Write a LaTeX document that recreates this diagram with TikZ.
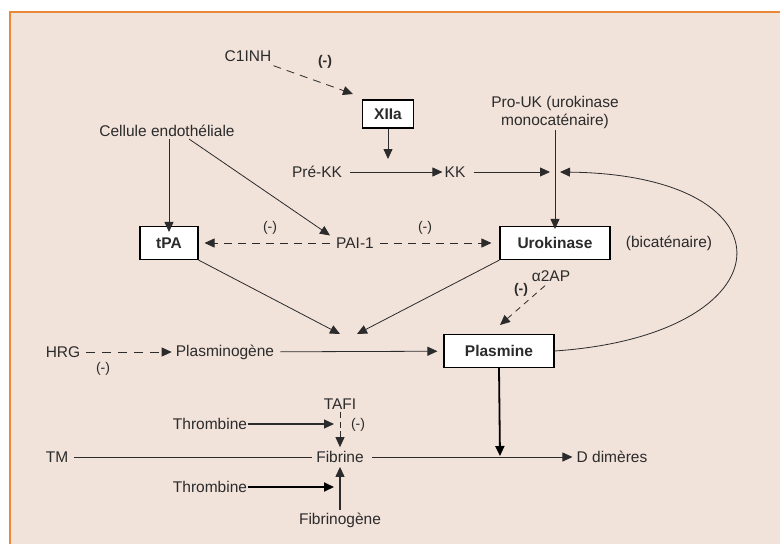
\documentclass[tikz,border=0pt]{standalone}
\usepackage{fontspec}
\setmainfont{Liberation Sans}
\usetikzlibrary{arrows.meta}
\definecolor{panel}{HTML}{F1E2DA}
\definecolor{frame}{HTML}{E8893A}
\definecolor{ink}{HTML}{2B2B2B}
\begin{document}
\begin{tikzpicture}[x=1pt,y=-1pt,
  font=\fontsize{15.5}{18}\selectfont,
  tip/.style={-{Triangle[length=10pt,width=9pt]}},
  txt/.style={text=ink, inner sep=2pt},
  tight/.style={text=ink, inner sep=0.5pt},
  box/.style={draw=black, line width=1.1pt, fill=white, text=ink, font=\fontsize{15.5}{18}\selectfont\bfseries, inner sep=0pt},
  arr/.style={draw=ink, line width=0.8pt, tip},
  thickarr/.style={draw=black, line width=1.8pt, tip},
  plain/.style={draw=ink, line width=0.8pt},
  dasharr/.style={draw=ink, line width=0.8pt, dash pattern=on 8pt off 6pt, tip},
  minus/.style={text=ink, inner sep=1pt, font=\fontsize{14}{16}\selectfont}
]
% panel
\useasboundingbox (0,0) rectangle (780,544);
\fill[white] (0,0) rectangle (780,544);
\fill[panel] (10,12) rectangle (780,544);
\draw[frame, line width=2pt] (10,544) -- (10,12) -- (780,12);

% upper part: contact activation
\node[txt] (c1inh) at (248,56) {C1INH};
\node[minus, font=\fontsize{14}{16}\selectfont\bfseries] (m0) at (325,62) {(-)};
\node[box, minimum width=51pt, minimum height=28pt] (xiia) at (388,114) {XIIa};
\coordinate (c1tip) at (353,94);
\draw[dasharr] ([yshift=-2pt]c1inh.south east) -- (c1tip);

\node[txt, align=center] (prouk) at (555,112) {Pro-UK (urokinase\\monocaténaire)};
\node[txt] (cell) at (167,131) {Cellule endothéliale};

\node[txt] (prekk) at (317,172) {Pré-KK};
\node[txt] (kk) at (455,172) {KK};
\coordinate (j) at (555,172);
\coordinate (jl) at (550,172);
\coordinate (jr) at (560,172);
\coordinate (xtip) at (388,159);
\draw[arr] (xiia.south) -- (xtip);
\draw[arr, shorten <=6pt] (prekk) -- (kk);
\draw[arr, shorten <=6pt] (kk) -- (jl);

% activators row
\node[box, minimum width=58pt, minimum height=33pt] (tpa) at (169,243) {tPA};
\node[box, minimum width=110pt, minimum height=33pt] (uro) at (555,243) {Urokinase};
\node[txt] (pai) at (355,243) {PAI-1};
\node[txt] (bica) at (669,243) {(bicaténaire)};
\node[minus] (m1) at (270,228) {(-)};
\node[minus] (m2) at (425,228) {(-)};

\draw[arr] (prouk.south) -- ([yshift=-3pt]uro.north);
\draw[arr] (cell.south -| tpa) -- ([yshift=-6pt]tpa.north);
\draw[arr] ([xshift=22pt]cell.south) -- ([xshift=-4pt]pai.north west);
\draw[dasharr, shorten <=4pt, shorten >=6pt] (pai) -- (tpa);
\draw[dasharr, shorten <=4pt, shorten >=8pt] (pai) -- (uro);

% plasmin formation
\node[txt] (a2ap) at (551,276) {α2AP};
\node[minus, font=\fontsize{14}{16}\selectfont\bfseries] (m3) at (521,290) {(-)};
\node[txt] (hrg) at (63,352) {HRG};
\node[minus] (m4) at (103,369) {(-)};
\node[txt] (plg) at (225,352) {Plasminogène};
\node[box, minimum width=110pt, minimum height=33pt] (pla) at (499,351) {Plasmine};

\coordinate (cv1) at (340,334);
\coordinate (cv2) at (357,334);
\coordinate (a2tip) at (500,325);
\draw[arr] (tpa.south east) -- (cv1);
\draw[arr] (uro.south west) -- (cv2);
\draw[dasharr, dash pattern=on 6pt off 5pt] ([xshift=-6pt,yshift=-2pt]a2ap.south) -- (a2tip);
\draw[dasharr, dash pattern=on 9pt off 7pt, shorten <=4pt, shorten >=2pt] (hrg) -- (plg);
\draw[arr, shorten <=4pt, shorten >=6pt] (plg) -- (pla);

% plasmin feedback onto pro-urokinase
\draw[plain, tip] (pla.east) .. controls (790,335) and (800,175) .. (jr);
\draw[plain] (j |- prouk.south) -- (j);

% fibrin part
\node[txt] (tafi) at (340,404) {TAFI};
\node[minus] (m5) at (358,425) {(-)};
\node[tight] (thr1) at (210,424) {Thrombine};
\node[tight] (thr2) at (210,487) {Thrombine};
\node[txt] (tm) at (57,457) {TM};
\node[txt, inner sep=4pt] (fib) at (340,457) {Fibrine};
\node[txt] (dd) at (612,457) {D dimères};
\node[txt] (fbg) at (340,520) {Fibrinogène};

\coordinate (tafimid) at (340,431);
\coordinate (t1tip) at (334,424);
\coordinate (t2tip) at (334,487);
\coordinate (ptip) at (500,456);
\draw[plain, dash pattern=on 6pt off 4pt] (tafi.south) -- (tafimid);
\draw[arr] (tafimid) -- (fib.north);
\draw[arr, line width=1.2pt] (thr1.east) -- (t1tip);
\draw[thickarr] (thr2.east) -- (t2tip);
\draw[plain, shorten <=4pt] (tm) -- (fib);
\draw[arr, shorten <=4pt, shorten >=2pt] (fib) -- (dd);
\draw[arr, line width=1.1pt] (fbg.north) -- (fib.south);
\draw[thickarr] (pla.south) -- (ptip);
\end{tikzpicture}
\end{document}
